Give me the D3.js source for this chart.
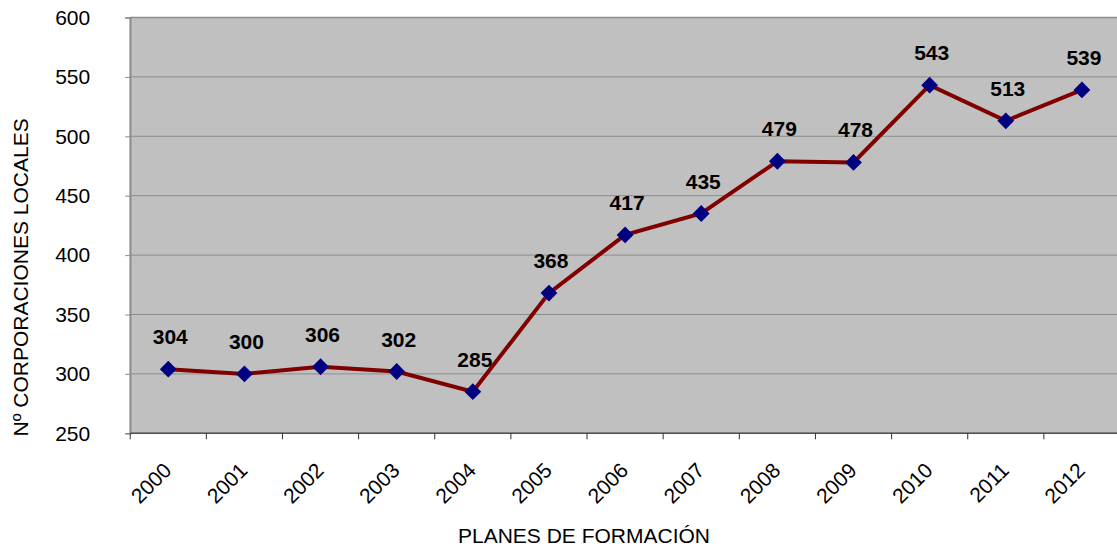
<!DOCTYPE html>
<html>
<head>
<meta charset="utf-8">
<script src="https://cdn.jsdelivr.net/npm/d3@7"></script>
<style>
  body { margin: 0; background: #fff; }
  text { font-family: "Liberation Sans", Arial, sans-serif; }
</style>
</head>
<body>
<script>
const width = 1117;
const height = 547;

// data
const years = ['2000','2001','2002','2003','2004','2005','2006','2007','2008','2009','2010','2011','2012'];
const values = [304, 300, 306, 302, 285, 368, 417, 435, 479, 478, 543, 513, 539];
const yTicks = [250, 300, 350, 400, 450, 500, 550, 600];

const plotLeft = 130.2, plotRight = 1120, plotTop = 17.5, plotBottom = 433.3;
const fs = '21px';

const svg = d3.select('body').append('svg').attr('width', width).attr('height', height);

const xs = d3.scaleBand().domain(years).range([plotLeft, plotRight]).paddingInner(0).paddingOuter(0);
const ys = d3.scaleLinear().domain([250, 600]).range([plotBottom, plotTop]);

// plot background
svg.append('rect')
	.attr('x', plotLeft).attr('y', plotTop)
	.attr('width', plotRight - plotLeft).attr('height', plotBottom - plotTop)
	.style('fill', '#c0c0c0')
	.style('stroke', '#8c8c8c')
	.style('stroke-width', 1.5);

// gridlines
svg.append('g')
	.selectAll('line')
	.data(yTicks.slice(1, -1))
	.enter()
	.append('line')
	.attr('x1', plotLeft).attr('x2', plotRight)
	.attr('y1', d => ys(d)).attr('y2', d => ys(d))
	.style('stroke', '#8c8c8c')
	.style('stroke-width', 1);

// y axis
const yaxis = svg.append('g')
	.attr('transform', 'translate(' + plotLeft + ',0)')
	.call(d3.axisLeft(ys).tickValues(yTicks).tickSize(5).tickPadding(35));
yaxis.select('.domain').style('stroke', '#8c8c8c').style('stroke-width', 1.5);
yaxis.selectAll('.tick line').style('stroke', '#8c8c8c');
yaxis.selectAll('text').style('font-size', fs).style('fill', '#000').style('font-family', '"Liberation Sans", Arial, sans-serif');

// x axis with ticks on band boundaries
const xaxis = svg.append('g').attr('transform', 'translate(0,' + plotBottom + ')');
xaxis.append('line')
	.attr('x1', plotLeft).attr('x2', plotRight).attr('y1', 0).attr('y2', 0)
	.style('stroke', '#555').style('stroke-width', 1.5);
xaxis.selectAll('.xtick')
	.data(years)
	.enter()
	.append('line')
	.attr('class', 'xtick')
	.attr('x1', d => xs(d)).attr('x2', d => xs(d))
	.attr('y1', 0).attr('y2', 6)
	.style('stroke', '#333');
xaxis.selectAll('.xlab')
	.data(years)
	.enter()
	.append('text')
	.attr('class', 'xlab')
	.attr('transform', d => 'translate(' + (xs(d) + xs.bandwidth() / 2 - 6) + ',28) rotate(-45)')
	.attr('text-anchor', 'end')
	.attr('dy', '0.7em')
	.style('font-size', fs)
	.text(d => d);

// axis titles
svg.append('text')
	.attr('transform', 'translate(28,' + ((plotTop + plotBottom) / 2 + 52) + ') rotate(-90)')
	.attr('text-anchor', 'middle')
	.style('font-size', fs)
	.text('Nº CORPORACIONES LOCALES');
svg.append('text')
	.attr('x', 584).attr('y', 543)
	.attr('text-anchor', 'middle')
	.style('font-size', fs)
	.text('PLANES DE FORMACIÓN');

// line
const line = d3.line()
	.x((d, i) => xs(years[i]) + xs.bandwidth() / 2)
	.y(d => ys(d));
svg.append('path')
	.datum(values)
	.attr('d', line)
	.style('fill', 'none')
	.style('stroke', '#800000')
	.style('stroke-width', 4);

// diamond markers
svg.selectAll('.pt')
	.data(values)
	.enter()
	.append('path')
	.attr('class', 'pt')
	.attr('d', d3.symbol().type(d3.symbolDiamond2).size(180))
	.attr('transform', (d, i) => 'translate(' + (xs(years[i]) + xs.bandwidth() / 2) + ',' + ys(d) + ')')
	.style('fill', '#000080');

// value labels
svg.selectAll('.lbl')
	.data(values)
	.enter()
	.append('text')
	.attr('class', 'lbl')
	.attr('x', (d, i) => xs(years[i]) + xs.bandwidth() / 2 + 2)
	.attr('y', d => ys(d) - 25)
	.attr('text-anchor', 'middle')
	.style('font-size', fs)
	.style('font-weight', 'bold')
	.text(d => d);
</script>
</body>
</html>
